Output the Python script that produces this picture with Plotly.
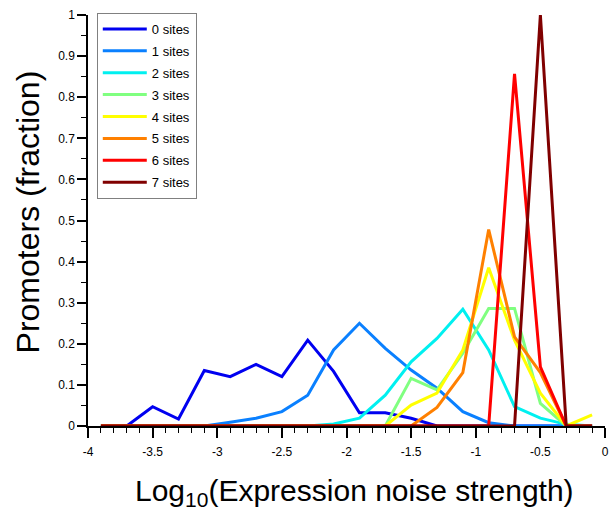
import plotly.graph_objects as go

x_vals = [-3.9, -3.7, -3.5, -3.3, -3.1, -2.9, -2.7, -2.5, -2.3, -2.1,
          -1.9, -1.7, -1.5, -1.3, -1.1, -0.9, -0.7, -0.5, -0.3, -0.1]

sites0 = [0, 0, 0.047, 0.017, 0.135, 0.12, 0.15, 0.12, 0.209, 0.133,
          0.032, 0.032, 0.019, 0, 0, 0, 0, 0, 0, 0]
sites1 = [0, 0, 0, 0, 0, 0.009, 0.019, 0.035, 0.075, 0.185,
          0.25, 0.189, 0.136, 0.092, 0.035, 0.008, 0, 0, 0, 0]
sites2 = [0, 0, 0, 0, 0, 0, 0, 0, 0, 0.005,
          0.019, 0.075, 0.156, 0.213, 0.284, 0.185, 0.047, 0.019, 0.004, 0]
sites3 = [0, 0, 0, 0, 0, 0, 0, 0, 0, 0,
          0, 0, 0.116, 0.088, 0.177, 0.286, 0.286, 0.055, 0, 0]
sites4 = [0, 0, 0, 0, 0, 0, 0, 0, 0, 0,
          0, 0, 0.051, 0.08, 0.185, 0.385, 0.209, 0.08, 0, 0.027]
sites5 = [0, 0, 0, 0, 0, 0, 0, 0, 0, 0,
          0, 0, 0, 0.045, 0.13, 0.478, 0.217, 0.13, 0, 0]
sites6 = [0, 0, 0, 0, 0, 0, 0, 0, 0, 0,
          0, 0, 0, 0, 0, 0, 0.857, 0.144, 0, 0]
sites7 = [0, 0, 0, 0, 0, 0, 0, 0, 0, 0,
          0, 0, 0, 0, 0, 0, 0, 1.0, 0, 0]

series_names = ["0 sites", "1 sites", "2 sites", "3 sites",
                "4 sites", "5 sites", "6 sites", "7 sites"]
series_values = [sites0, sites1, sites2, sites3, sites4, sites5, sites6, sites7]
colors = ["#0000F0", "#0A80FF", "#00F0F0", "#80FF80",
          "#FFFF00", "#FF8000", "#FF0000", "#800000"]

x_tickvals = [-4, -3.5, -3, -2.5, -2, -1.5, -1, -0.5, 0]
x_ticktext = ["-4", "-3.5", "-3", "-2.5", "-2", "-1.5", "-1", "-0.5", "0"]
y_tickvals = [0, 0.1, 0.2, 0.3, 0.4, 0.5, 0.6, 0.7, 0.8, 0.9, 1]
y_ticktext = ["0", "0.1", "0.2", "0.3", "0.4", "0.5", "0.6", "0.7", "0.8", "0.9", "1"]

x_title = "Log<sub>10</sub>(Expression noise strength)"
y_title = "Promoters (fraction)"

fig = go.Figure()
for i, (name, vals, col) in enumerate(zip(series_names, series_values, colors)):
    fig.add_trace(go.Scatter(x=x_vals, y=vals, mode="lines", name=name,
                             legendgroup="g%d" % i,
                             line=dict(color=col, width=3), cliponaxis=False))

font_family = "Liberation Sans, Arial, sans-serif"
fig.update_layout(
    width=614, height=521,
    margin=dict(l=88, r=5, t=15, b=95),
    paper_bgcolor="white", plot_bgcolor="white",
    font=dict(family=font_family, color="black"),
    showlegend=True,
    legend=dict(x=0.017, y=1.005, xanchor="left", yanchor="top",
                bordercolor="#808080", borderwidth=1, bgcolor="white",
                font=dict(size=13, family=font_family, color="black"),
                itemwidth=44,
                tracegroupgap=2),
    xaxis=dict(range=[-4, 0], tickvals=x_tickvals, ticktext=x_ticktext,
               showgrid=False, zeroline=False, showline=True, linecolor="black",
               linewidth=1.5, ticks="outside", ticklen=10, tickwidth=1.5,
               tickcolor="black", tickfont=dict(size=12), ticklabelstandoff=4,
               minor=dict(dtick=0.1, tick0=-4, ticks="outside", ticklen=5,
                          tickwidth=1, tickcolor="black", showgrid=False)),
    yaxis=dict(range=[0, 1], tickvals=y_tickvals, ticktext=y_ticktext,
               showgrid=False, zeroline=False, showline=True, linecolor="black",
               linewidth=1.5, ticks="outside", ticklen=9, tickwidth=1.5,
               tickcolor="black", tickfont=dict(size=12),
               minor=dict(dtick=0.05, tick0=0, ticks="outside", ticklen=5,
                          tickwidth=1, tickcolor="black", showgrid=False)),
    annotations=[
        dict(text=x_title, xref="paper", yref="paper", x=0.516, y=-0.163,
             xanchor="center", yanchor="middle", showarrow=False,
             font=dict(size=30, family=font_family, color="black")),
        dict(text=y_title, xref="paper", yref="paper", x=-0.1152, y=0.5207,
             xanchor="center", yanchor="middle", textangle=-90, showarrow=False,
             font=dict(size=32, family=font_family, color="black")),
    ],
)

fig.write_html("out.html")
